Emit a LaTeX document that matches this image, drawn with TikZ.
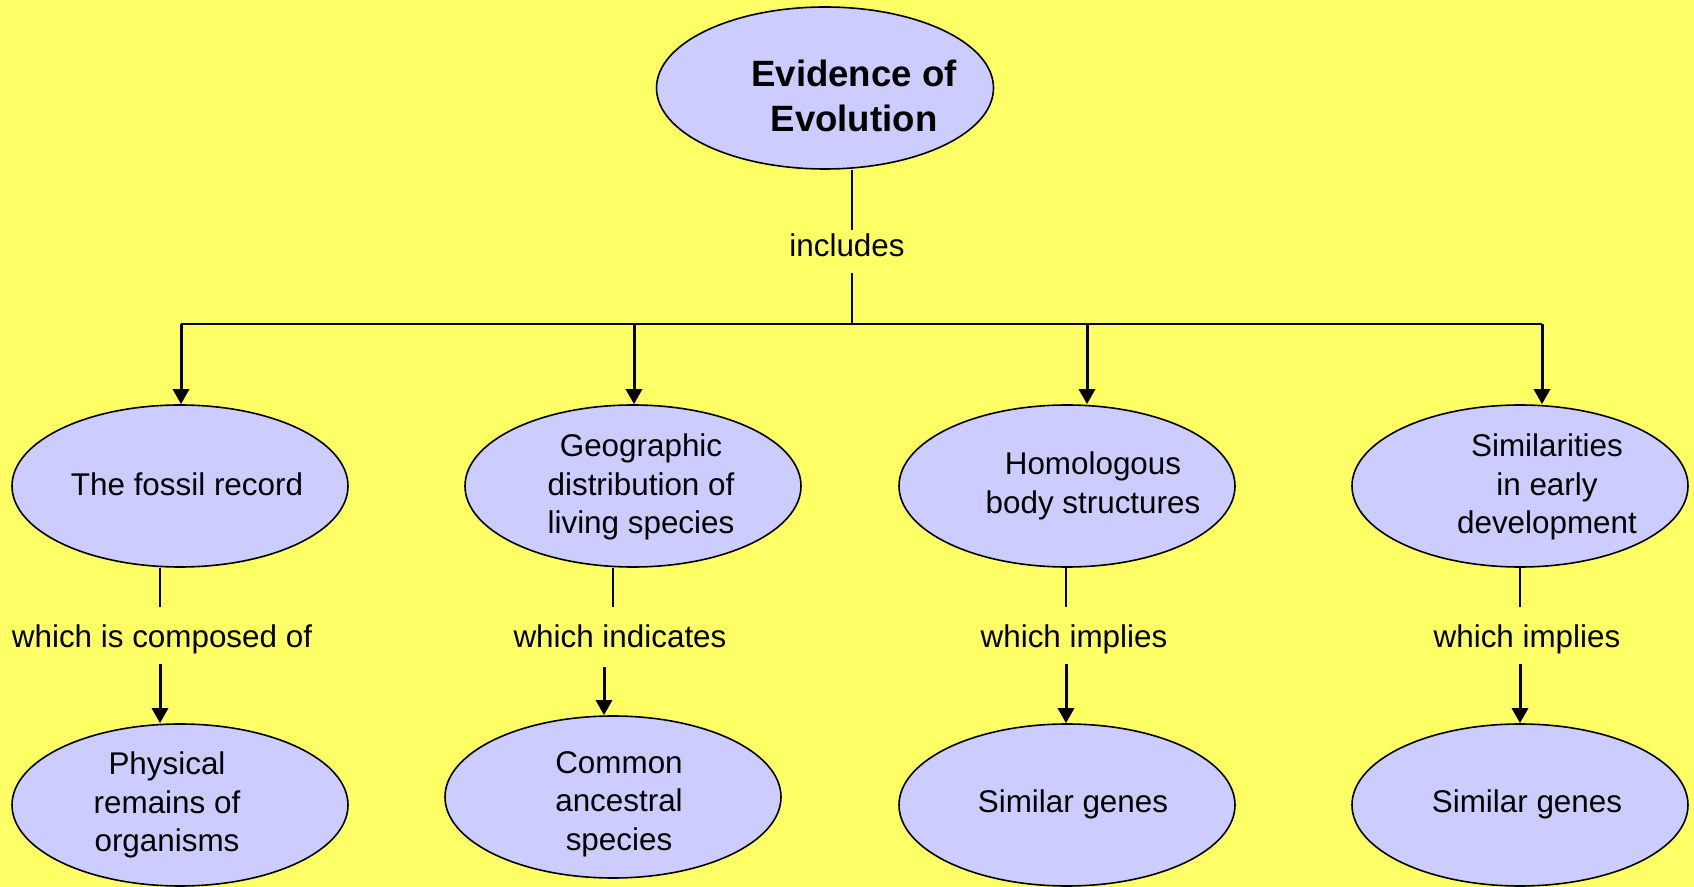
\documentclass[tikz,border=0pt]{standalone}
\usepackage{fontspec}
\setmainfont{Liberation Sans}
\usetikzlibrary{shapes.geometric,arrows.meta}
\definecolor{bgyellow}{RGB}{255,255,102}
\definecolor{ovalblue}{RGB}{204,204,255}

\begin{document}
\begin{tikzpicture}[x=0.5pt,y=-0.5pt,n/.style={ellipse,draw,fill=ovalblue,line width=0.8pt,minimum width=168pt,minimum height=81pt,inner sep=0pt},t/.style={align=center,inner sep=0pt,font=\fontsize{15.7pt}{19.2pt}\selectfont},l/.style={draw,line width=0.9pt},e/.style={draw,line width=1.5pt,-{Triangle[length=7.5pt,width=8pt]}}]

\fill[bgyellow] (0,0) rectangle (1694,887);
\useasboundingbox (0,0) rectangle (1694,887);

\node[n, minimum width=168.5pt] (evo) at (825,88) {};
\node[t, font=\bfseries\fontsize{18.3pt}{22.5pt}\selectfont] (evoT) at (854,96) {Evidence of\\Evolution};

\node[n] (fossil) at (180,486) {};
\node[n] (geo) at (633,486) {};
\node[n] (hom) at (1067,486) {};
\node[n] (sim) at (1520,486) {};
\node[t] (fossilT) at (187,484) {The fossil record};
\node[t] (geoT) at (641,487) {Geographic\\distribution of\\living species};
\node[t] (homT) at (1093,486) {Homologous\\body structures};
\node[t] (simT) at (1547,487) {Similarities\\in early\\development};

\node[n] (phys) at (180,805) {};
\node[n] (anc) at (613,797) {};
\node[n] (genes1) at (1067,805) {};
\node[n] (genes2) at (1520,805) {};
\node[t] (physT) at (167,805) {Physical\\remains of\\organisms};
\node[t] (ancT) at (619,804) {Common\\ancestral\\species};
\node[t] (genes1T) at (1073,804) {Similar genes};
\node[t] (genes2T) at (1527,804) {Similar genes};

\node[t, anchor=base] (inc) at (847,257) {includes};
\coordinate (incA) at (852,230);
\coordinate (incB) at (852,273);
\coordinate (b1) at (181,324);
\coordinate (b2) at (634,324);
\coordinate (b3) at (1087,324);
\coordinate (b4) at (1542,324);
\path[l] (evo.south -| incA) -- (incA);
\path[l] (incB) -- (incB |- b1);
\path[l] (b1) -- (b4);
\path[e] (b1) -- (b1 |- fossil.north);
\path[e] (b2) -- (b2 |- geo.north);
\path[e] (b3) -- (b3 |- hom.north);
\path[e] (b4) -- (b4 |- sim.north);

\node[t, anchor=base] (lab1) at (162,648) {which is composed of};
\node[t, anchor=base] (lab2) at (620,648) {which indicates};
\node[t, anchor=base] (lab3) at (1074,648) {which implies};
\node[t, anchor=base] (lab4) at (1527,648) {which implies};
\coordinate (g1a) at (160,607);
\coordinate (g1b) at (160,664);
\coordinate (g2a) at (613,607);
\coordinate (g2b) at (604,667);
\coordinate (g3a) at (1066,607);
\coordinate (g3b) at (1066,664);
\coordinate (g4a) at (1520,607);
\coordinate (g4b) at (1520,664);
\path[l] (fossil.south -| g1a) -- (g1a);
\path[e] (g1b) -- (g1b |- phys.north);
\path[l] (geo.south -| g2a) -- (g2a);
\path[e] (g2b) -- (g2b |- anc.north);
\path[l] (hom.south -| g3a) -- (g3a);
\path[e] (g3b) -- (g3b |- genes1.north);
\path[l] (sim.south -| g4a) -- (g4a);
\path[e] (g4b) -- (g4b |- genes2.north);

\end{tikzpicture}
\end{document}
